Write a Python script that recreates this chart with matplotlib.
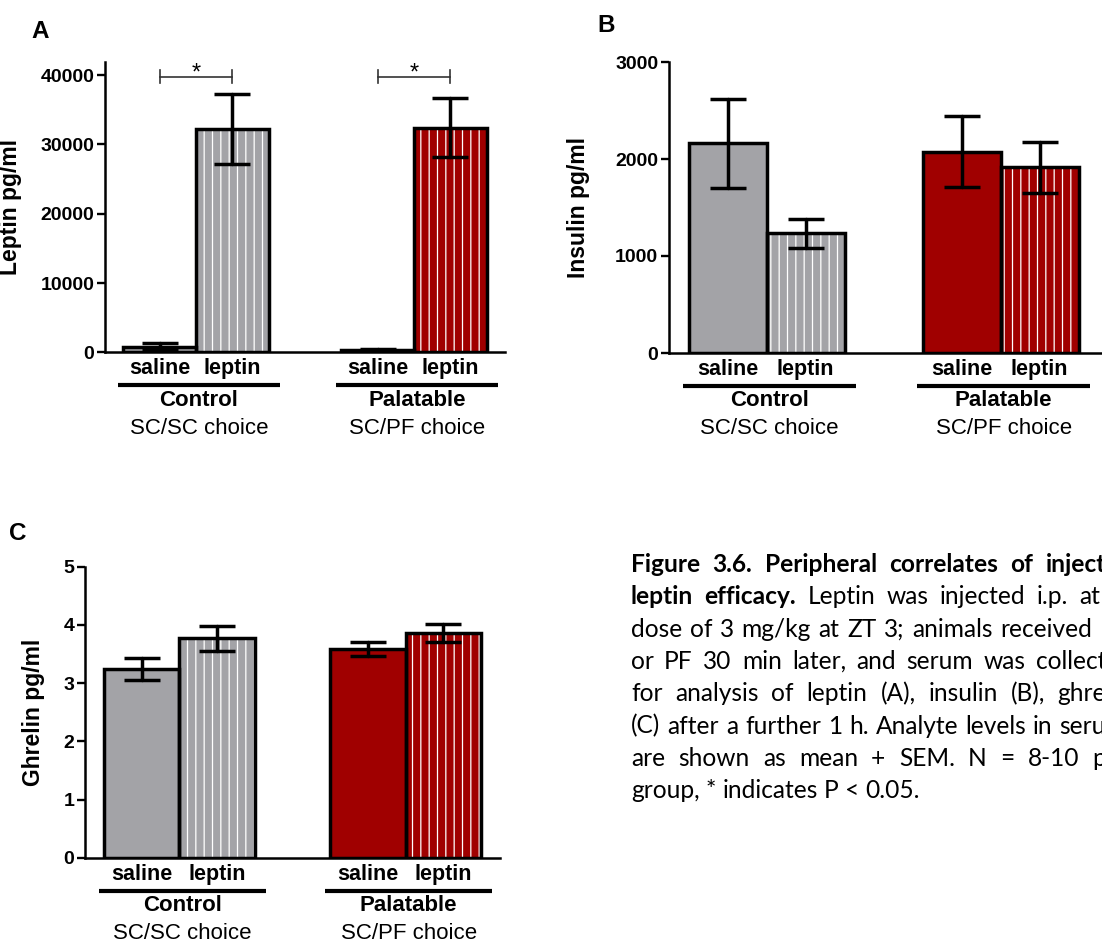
import numpy as np
import matplotlib
matplotlib.use('Agg')
import matplotlib.pyplot as plt
import matplotlib.transforms as mtransforms

plt.rcParams['font.family'] = ['Liberation Sans', 'DejaVu Sans']
plt.rcParams['hatch.linewidth'] = 0.9

# ---------------- data ----------------
treatments = ['saline', 'leptin']
groups = ['Control', 'Palatable']
group_sub = ['SC/SC choice', 'SC/PF choice']
group_colors = ['#A3A3A7', '#A00000']

leptin_mean = [810, 32250, 330, 32400]
leptin_sem = [490, 5050, 150, 4250]
insulin_mean = [2160, 1235, 2075, 1915]
insulin_sem = [460, 148, 368, 263]
ghrelin_mean = [3.24, 3.77, 3.59, 3.86]
ghrelin_sem = [0.19, 0.21, 0.12, 0.16]

leptin_ticks = [0, 10000, 20000, 30000, 40000]
insulin_ticks = [0, 1000, 2000, 3000]
ghrelin_ticks = [0, 1, 2, 3, 4, 5]

sig_pairs = [(0, 1), (2, 3)]
sig_level = 39800
sig_label = '*'

caption_lines = [
    [('Figure', 1), ('3.6.', 1), ('Peripheral', 1), ('correlates', 1), ('of', 1), ('inject', 1)],
    [('leptin', 1), ('efficacy.', 1), ('Leptin', 0), ('was', 0), ('injected', 0), ('i.p.', 0), ('at', 0)],
    [(w, 0) for w in 'dose of 3 mg/kg at ZT 3; animals received'.split()],
    [(w, 0) for w in 'or PF 30 min later, and serum was collect'.split()],
    [(w, 0) for w in 'for analysis of leptin (A), insulin (B), ghre'.split()],
    [(w, 0) for w in '(C) after a further 1 h. Analyte levels in seru'.split()],
    [(w, 0) for w in 'are shown as mean + SEM. N = 8-10 p'.split()],
    [(w, 0) for w in 'group, * indicates P < 0.05.'.split()],
]
caption_right = [1106, 1100, 1092, 1106, 1106, 1106, 1106, None]

# ---------------- figure ----------------
W, H = 1102, 943
fig = plt.figure(figsize=(W / 100, H / 100), dpi=100)
fig.patch.set_facecolor('white')


def px_axes(left, top, right, bottom):
    return fig.add_axes([left / W, 1 - bottom / H, (right - left) / W, (bottom - top) / H])


def bar_x(i):
    return (i // 2) * 3 + (i % 2)


def draw_panel(ax, means, sems, ticks, ylim, xlim, ylabel, ylabel_x):
    n = len(means)
    xs = [bar_x(i) for i in range(n)]
    for i in range(n):
        g, t = i // 2, i % 2
        col = group_colors[g]
        if t == 1:
            ax.bar(xs[i], means[i], width=1.0, color=col, edgecolor='white',
                   hatch='||', linewidth=0, zorder=2)
            ax.bar(xs[i], means[i], width=1.0, fill=False, edgecolor='black',
                   linewidth=2.5, zorder=3)
        else:
            ax.bar(xs[i], means[i], width=1.0, color=col, edgecolor='black',
                   linewidth=2.5, zorder=3)
    eb = ax.errorbar(xs, means, yerr=sems, fmt='none', ecolor='black',
                     elinewidth=2.5, capsize=13, capthick=2.5, zorder=4)
    for c in eb[1]:
        c.set_solid_capstyle('round')
    for c in eb[2]:
        c.set_capstyle('round')

    ax.set_xlim(*xlim)
    ax.set_ylim(*ylim)
    ax.set_yticks(ticks)
    ax.tick_params(axis='y', direction='out', length=5.5, width=1.7, pad=2.2,
                   labelsize=14)
    ax.tick_params(axis='x', length=0, labelbottom=False)
    for s in ['top', 'right']:
        ax.spines[s].set_visible(False)
    for s in ['left', 'bottom']:
        ax.spines[s].set_linewidth(1.8)
    ax.set_ylabel(ylabel, fontsize=16.5, fontweight='bold')
    ax.yaxis.set_label_coords(ylabel_x, 0.5)
    ax.patch.set_alpha(0)

    trans = mtransforms.blended_transform_factory(ax.transData, ax.transAxes)
    for i in range(n):
        ax.annotate(treatments[i % 2], xy=(xs[i], 0), xycoords=trans,
                    xytext=(0, -16.5 * 0.72), textcoords='offset points',
                    ha='center', va='center', fontsize=15.5, fontweight='bold')
    for g in range(len(groups)):
        x0 = g * 3 - 0.5 - 0.07
        x1 = g * 3 + 1.5 + 0.15
        off = mtransforms.ScaledTranslation(0, -33 / 100, fig.dpi_scale_trans)
        ax.plot([x0, x1], [0, 0], transform=trans + off, color='black', lw=3,
                solid_capstyle='butt', clip_on=False)
        xc = (x0 + x1) / 2
        ax.annotate(groups[g], xy=(xc, 0), xycoords=trans,
                    xytext=(0, -48 * 0.72), textcoords='offset points',
                    ha='center', va='center', fontsize=16, fontweight='bold')
        ax.annotate(group_sub[g], xy=(xc, 0), xycoords=trans,
                    xytext=(0, -76 * 0.72), textcoords='offset points',
                    ha='center', va='center', fontsize=16)


# Panel A
axA = px_axes(105, 62, 505, 352.3)
draw_panel(axA, leptin_mean, leptin_sem, leptin_ticks, (0, 41900), (-0.75, 4.75),
           'Leptin pg/ml', -0.2075)
tick_h = 1000
for a, b in sig_pairs:
    xa, xb = bar_x(a), bar_x(b)
    axA.plot([xa, xb], [sig_level, sig_level], color='#333333', lw=1.2, clip_on=False, zorder=5)
    for xx in (xa, xb):
        axA.plot([xx, xx], [sig_level - tick_h, sig_level + tick_h], color='#333333',
                 lw=1.2, clip_on=False, zorder=5)
    axA.text((xa + xb) / 2, sig_level - 400, sig_label, ha='center', va='baseline',
             fontsize=17, clip_on=False)

# Panel B
axB = px_axes(669, 62, 669 + 5.6 * 78, 353)
draw_panel(axB, insulin_mean, insulin_sem, insulin_ticks, (0, 3000), (-0.75, 4.85),
           'Insulin pg/ml', -0.182)

# Panel C
axC = px_axes(85, 566.7, 500, 857.7)
draw_panel(axC, ghrelin_mean, ghrelin_sem, ghrelin_ticks, (0, 5), (-0.75, 4.75),
           'Ghrelin pg/ml', -0.096)

# Panel letters
ident = mtransforms.IdentityTransform()
for letter, (px, py) in zip(['A', 'B', 'C'], [(40, 31), (606, 25), (18, 533)]):
    fig.text(px, H - py, letter, transform=ident, ha='center', va='center',
             fontsize=17.5, fontweight='bold')

# Caption (justified lines)
cap_font = ['Lato', 'DejaVu Sans']
renderer = fig.canvas.get_renderer()
cap_fs = 18.0
probe = fig.text(0, 0, ' '.join(w for w, _ in caption_lines[-1]), transform=ident,
                 fontsize=cap_fs, family=cap_font)
wprobe = probe.get_window_extent(renderer).width
probe.remove()
cap_fs = cap_fs * 289.0 / wprobe

x_left = 631
base0 = 572
lead = 32.3
for li, (words, right) in enumerate(zip(caption_lines, caption_right)):
    y = H - (base0 + li * lead)
    texts = []
    for w, b in words:
        t = fig.text(0, y, w, transform=ident, fontsize=cap_fs, family=cap_font,
                     fontweight='bold' if b else 'normal', va='baseline', ha='left')
        texts.append(t)
    widths = [t.get_window_extent(renderer).width for t in texts]
    if right is None:
        sp = fig.text(0, 0, 'a a', transform=ident, fontsize=cap_fs, family=cap_font)
        sa = fig.text(0, 0, 'aa', transform=ident, fontsize=cap_fs, family=cap_font)
        gap = sp.get_window_extent(renderer).width - sa.get_window_extent(renderer).width
        sp.remove(); sa.remove()
    else:
        gap = (right - x_left - sum(widths)) / (len(words) - 1)
    x = x_left
    for t, wd in zip(texts, widths):
        t.set_x(x)
        x += wd + gap

# make sure tick labels are bold and sized after ticks are created
fig.canvas.draw()
for ax in (axA, axB, axC):
    for lbl in ax.get_yticklabels():
        lbl.set_fontsize(14)
        lbl.set_fontweight('bold')

fig.savefig('out.png', dpi=100)
